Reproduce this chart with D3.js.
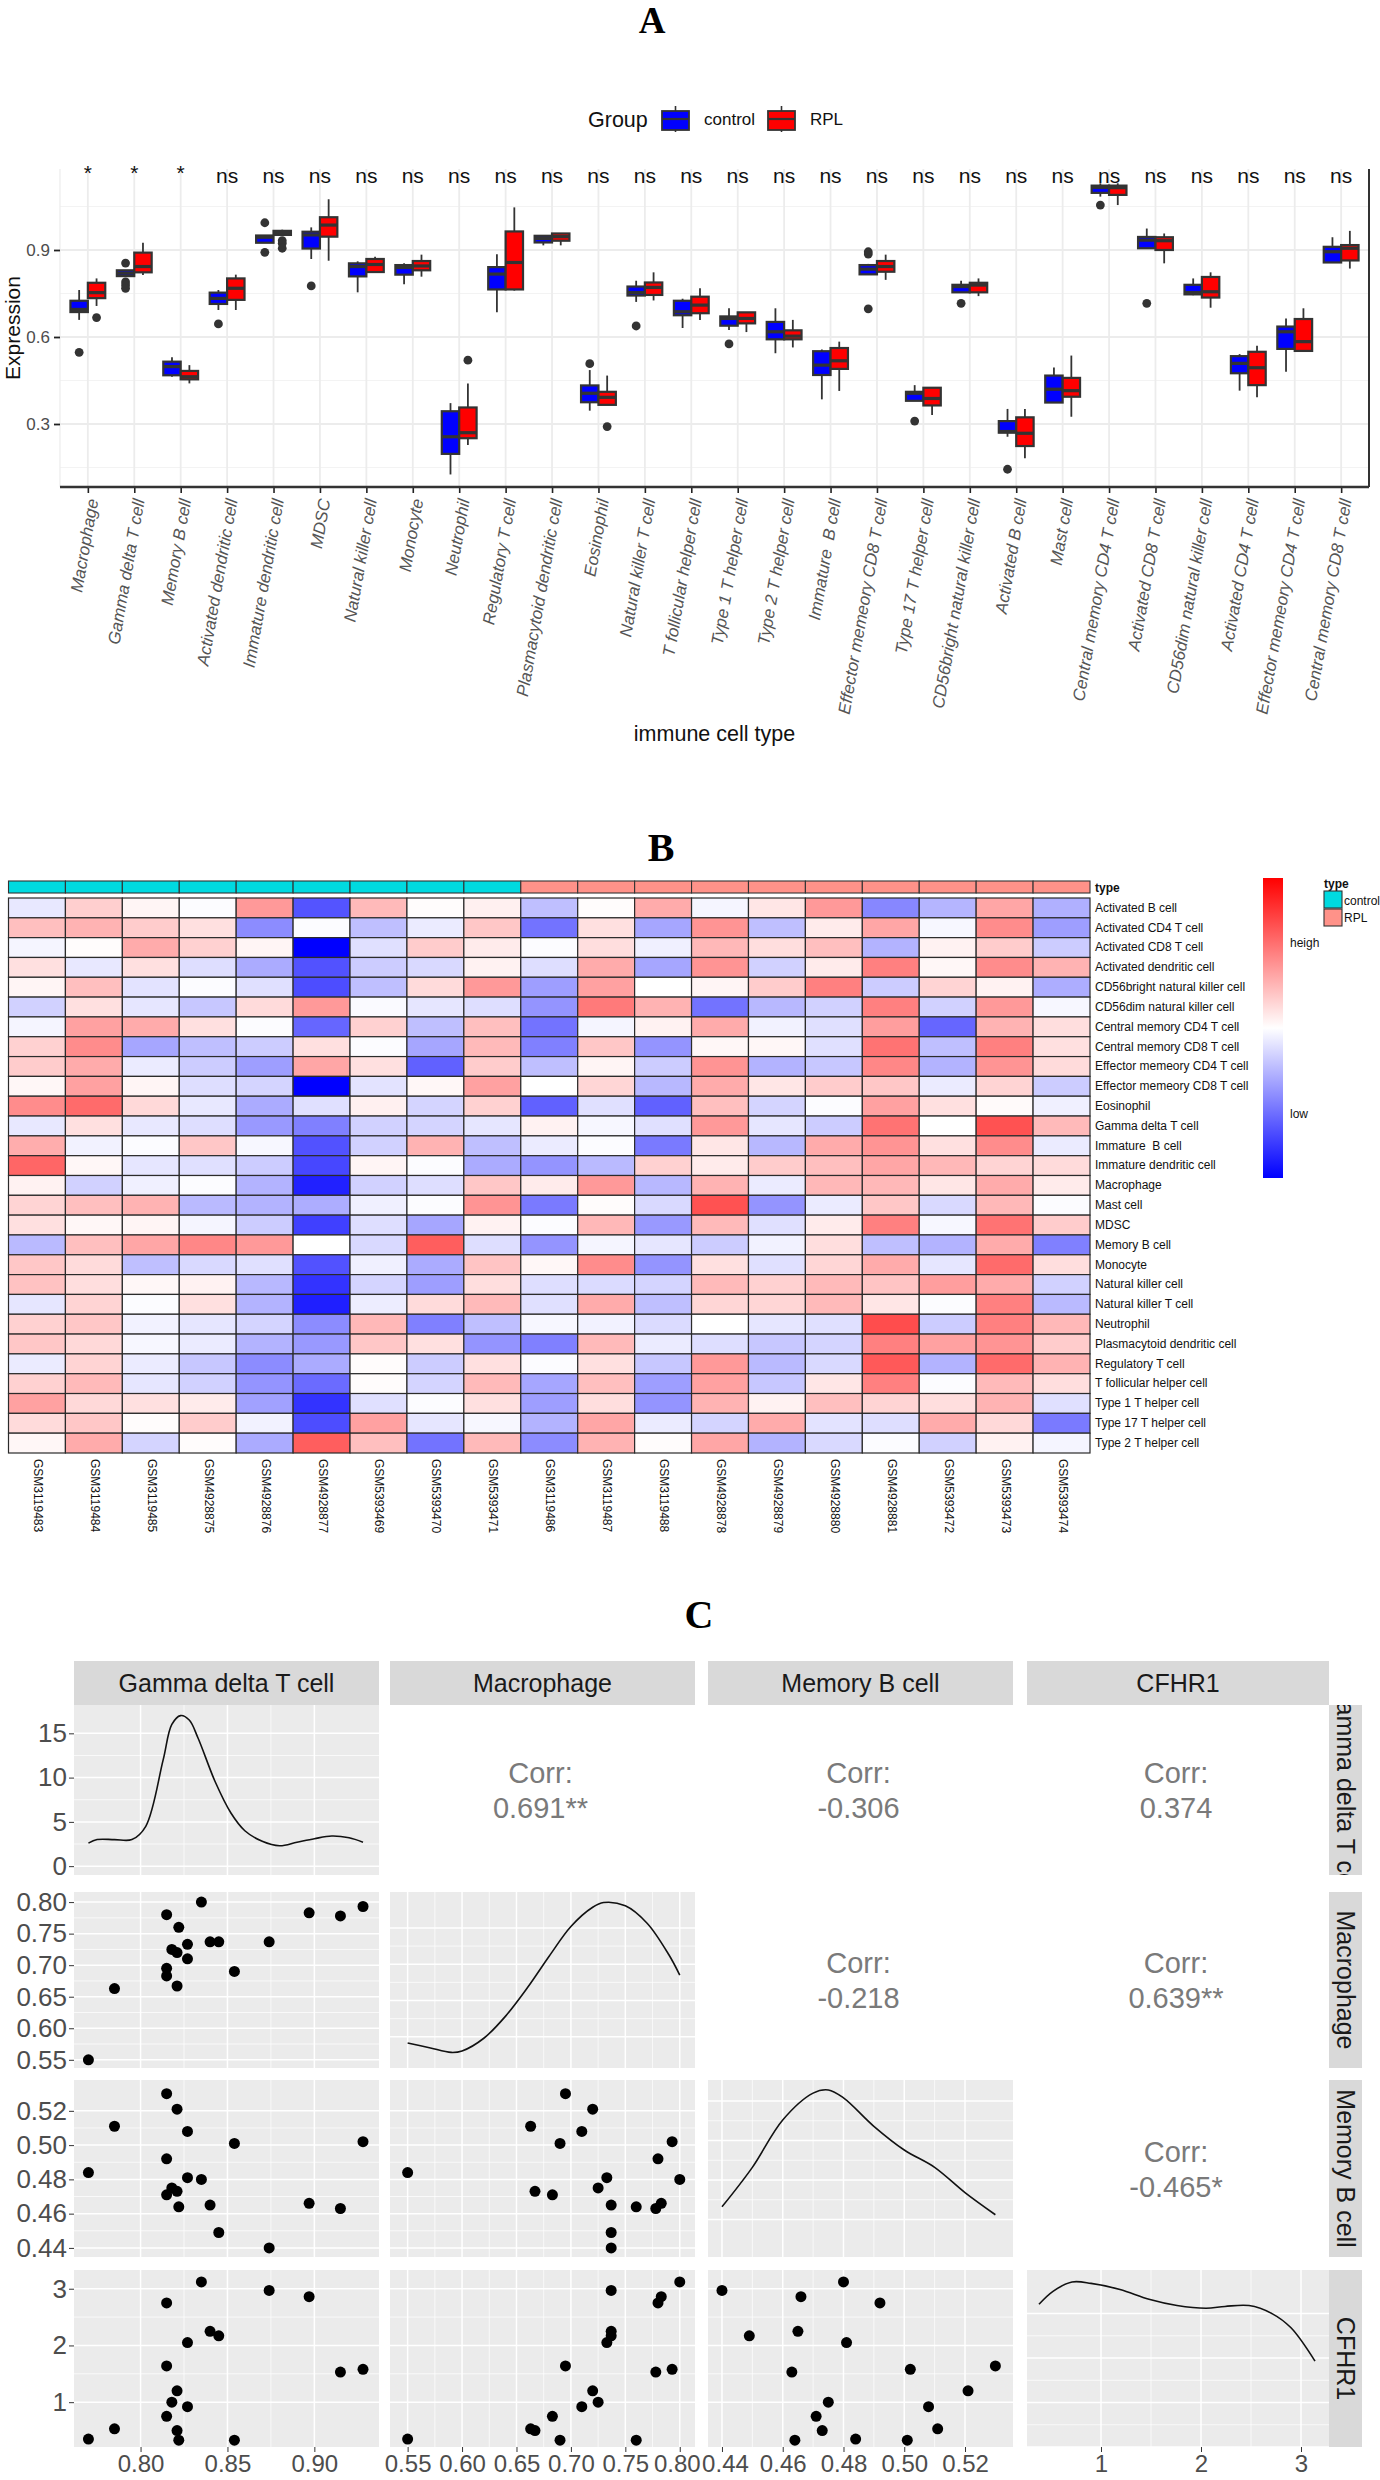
<!DOCTYPE html>
<html><head><meta charset="utf-8">
<script src="https://cdn.jsdelivr.net/npm/d3@7/dist/d3.min.js"></script>
<style>html,body{margin:0;padding:0;background:#fff}svg{display:block}text{font-family:"Liberation Sans",Arial,sans-serif;white-space:pre}</style>
</head><body><div id="chart"></div>
<script>
// ---------- Panel A data ----------
const cellTypes=["Macrophage","Gamma delta T cell","Memory B cell","Activated dendritic cell","Immature dendritic cell","MDSC","Natural killer cell","Monocyte","Neutrophil","Regulatory T cell","Plasmacytoid dendritic cell","Eosinophil","Natural killer T cell","T follicular helper cell","Type 1 T helper cell","Type 2 T helper cell","Immature  B cell","Effector memeory CD8 T cell","Type 17 T helper cell","CD56bright natural killer cell","Activated B cell","Mast cell","Central memory CD4 T cell","Activated CD8 T cell","CD56dim natural killer cell","Activated CD4 T cell","Effector memeory CD4 T cell","Central memory CD8 T cell"];
const signif=["*","*","*","ns","ns","ns","ns","ns","ns","ns","ns","ns","ns","ns","ns","ns","ns","ns","ns","ns","ns","ns","ns","ns","ns","ns","ns","ns"];
const groups=["control","RPL"];
const groupColors=["#0000ff","#ff0000"];
// each box: [lower whisker, q1, median, q3, upper whisker]
const controlBoxes=[[.659,.686,.695,.725,.762],[.81,.81,.82,.83,.83],[.463,.468,.498,.515,.53],[.693,.714,.733,.753,.762],[.925,.925,.944,.95,.95],[.869,.905,.952,.963,.978],[.754,.809,.843,.854,.861],[.782,.815,.84,.848,.854],[.126,.197,.256,.344,.372],[.685,.764,.817,.841,.885],[.916,.926,.94,.949,.949],[.346,.375,.406,.433,.486],[.721,.743,.753,.774,.794],[.631,.675,.687,.725,.732],[.624,.639,.664,.671,.699],[.544,.592,.618,.652,.699],[.385,.469,.503,.551,.557],[.816,.816,.834,.848,.852],[.38,.38,.406,.411,.434],[.754,.754,.774,.78,.794],[.256,.27,.274,.31,.352],[.374,.374,.42,.467,.495],[1.084,1.097,1.116,1.122,1.13],[.906,.906,.934,.945,.974],[.744,.747,.753,.78,.802],[.415,.475,.509,.534,.541],[.48,.559,.618,.636,.664],[.857,.857,.894,.911,.944]];
const rplBoxes=[[.707,.734,.753,.787,.802],[.814,.823,.843,.891,.925],[.44,.454,.463,.483,.503],[.693,.728,.768,.802,.815],[.952,.952,.96,.966,.97],[.863,.946,.986,1.013,1.075],[.824,.824,.85,.869,.877],[.808,.83,.845,.862,.884],[.228,.251,.27,.357,.44],[.76,.764,.857,.964,1.047],[.916,.932,.946,.957,.957],[.366,.366,.392,.411,.467],[.726,.745,.771,.788,.823],[.659,.682,.71,.739,.768],[.617,.647,.664,.685,.685],[.564,.592,.603,.623,.659],[.414,.49,.518,.562,.584],[.797,.825,.843,.862,.884],[.331,.364,.388,.425,.425],[.741,.754,.779,.787,.802],[.182,.224,.268,.323,.352],[.325,.394,.415,.459,.536],[1.055,1.09,1.115,1.122,1.13],[.854,.9,.932,.944,.957],[.701,.736,.756,.807,.823],[.392,.434,.494,.549,.57],[.552,.552,.584,.662,.699],[.836,.864,.906,.917,.966]];
const controlOutliers=[[.547],[.855,.79,.779,.768],[],[.645],[.994,.892],[.776],[],[],[],[],[],[.508],[.638],[],[.576],[],[],[.886,.894,.697],[.31],[.716],[.144],[],[1.055],[.716],[],[],[],[]];
const rplOutliers=[[.667],[],[],[],[.932,.923,.906],[],[],[],[.52],[],[],[.291],[],[],[],[],[],[],[],[],[],[],[],[],[],[],[],[]];
const expressionTicks=[.3,.6,.9];
const expressionMinor=[.15,.45,.75,1.05];

// ---------- Panel B data ----------
const samples=["GSM3119483","GSM3119484","GSM3119485","GSM4928875","GSM4928876","GSM4928877","GSM5393469","GSM5393470","GSM5393471","GSM3119486","GSM3119487","GSM3119488","GSM4928878","GSM4928879","GSM4928880","GSM4928881","GSM5393472","GSM5393473","GSM5393474"];
const sampleType=["control","control","control","control","control","control","control","control","control","RPL","RPL","RPL","RPL","RPL","RPL","RPL","RPL","RPL","RPL"];
const heatRows=["Activated B cell","Activated CD4 T cell","Activated CD8 T cell","Activated dendritic cell","CD56bright natural killer cell","CD56dim natural killer cell","Central memory CD4 T cell","Central memory CD8 T cell","Effector memeory CD4 T cell","Effector memeory CD8 T cell","Eosinophil","Gamma delta T cell","Immature  B cell","Immature dendritic cell","Macrophage","Mast cell","MDSC","Memory B cell","Monocyte","Natural killer cell","Natural killer T cell","Neutrophil","Plasmacytoid dendritic cell","Regulatory T cell","T follicular helper cell","Type 1 T helper cell","Type 17 T helper cell","Type 2 T helper cell"];
const heatValues=[
[-.09,.19,.04,-.01,.4,-.67,.27,.01,.06,-.25,.01,.33,-.04,.1,.4,-.47,-.29,.35,-.31],
[.25,.3,.2,.12,-.45,-.01,-.25,-.08,.22,-.55,.12,-.35,.42,-.25,.08,.35,-.03,.45,-.38],
[-.04,.01,.33,.18,.04,-1,-.12,.2,.08,-.01,.13,-.06,.28,.13,.25,-.3,.05,.2,-.2],
[.12,-.09,.12,-.13,-.33,-.68,-.2,-.15,.05,-.13,.33,-.35,.42,-.18,.08,.5,.03,.45,.3],
[.04,.25,-.11,-.01,-.12,-.7,-.25,.14,.4,-.38,.37,0,.04,.2,.5,-.2,.17,.05,-.32],
[-.18,.12,-.1,-.22,.14,.4,-.02,-.1,-.13,-.42,.52,.3,-.55,-.28,-.18,.5,-.18,.4,-.03],
[-.04,.37,.33,.12,-.01,-.6,.18,-.25,.25,-.55,-.04,.05,.33,-.05,-.12,.38,-.6,.3,.13],
[.18,.45,-.35,-.25,-.2,.12,-.01,-.35,.27,-.5,.22,-.42,.03,.03,-.12,.55,-.25,.5,.12],
[.2,.33,-.08,-.2,-.38,.35,.12,-.62,.2,-.25,.04,-.2,.42,-.3,-.22,.47,-.3,.42,.14],
[.03,.37,.04,-.13,-.17,-1,-.11,.03,.37,0,.16,-.28,.33,.1,.2,.22,-.08,.17,-.2],
[.45,.58,.15,-.09,-.33,-.12,.06,-.17,.18,-.62,-.12,-.62,.25,-.17,-.01,.37,.12,.02,-.06],
[-.09,.12,-.09,-.13,-.4,-.5,-.18,-.17,-.1,.05,-.03,-.12,.4,-.1,-.2,.55,0,.68,.27],
[.32,-.05,-.01,.22,-.03,-.68,-.18,.3,-.25,-.08,-.01,-.52,.1,-.28,.33,.42,.12,.45,-.08],
[.6,.03,-.1,-.12,-.2,-.72,.04,-.01,-.33,-.42,-.27,.18,.08,.2,.25,.35,.28,.17,.14],
[.05,-.18,-.06,-.01,-.3,-.87,-.18,-.13,.22,.08,.4,-.28,.3,-.08,.28,.28,.1,.33,.08],
[.17,.25,.3,-.27,-.3,-.32,-.06,-.01,.42,-.52,.01,-.15,.68,-.42,-.08,.22,-.15,.28,-.01],
[.12,.03,.04,-.04,-.2,-.75,-.13,-.35,.05,-.01,.28,-.4,.27,-.12,.08,.5,-.03,.55,.2],
[-.27,.25,.35,.47,.4,0,-.15,.63,-.13,-.42,-.04,-.1,-.2,-.05,.13,-.25,-.3,.33,-.5],
[.22,.14,-.25,-.15,-.12,-.68,-.06,-.33,.23,.03,.45,-.42,.12,-.12,.16,.33,-.1,.58,.13],
[.24,.13,.03,.05,-.28,-.8,-.17,-.38,.13,-.13,-.14,-.17,.27,.18,.27,.23,.38,.33,-.18],
[-.1,.17,-.01,.12,-.3,-.88,-.07,.14,.27,-.12,.33,-.25,.16,.16,.27,.1,-.01,.5,-.27],
[.18,.22,-.05,-.1,-.17,-.45,.28,-.5,-.25,-.03,-.05,-.14,0,-.1,-.12,.7,-.2,.5,.28],
[.22,.15,-.03,-.08,-.3,-.4,.22,.12,-.42,-.5,.27,-.08,-.13,-.22,-.17,.5,.37,.42,.2],
[-.08,.17,-.08,-.22,-.45,-.33,.01,-.2,.12,-.01,.12,-.22,.4,-.27,-.15,.65,-.3,.58,.3],
[.18,.27,-.1,-.18,-.42,-.58,.01,-.17,.27,-.35,.25,-.38,.37,-.22,.1,.5,-.01,.27,.13],
[.37,.15,.12,.08,-.37,-.8,-.12,-.01,.12,-.38,.13,-.42,.3,.05,.25,.17,.13,.3,-.12],
[.14,.22,.01,.2,-.05,-.7,.37,-.1,-.03,-.3,.35,-.08,-.17,.33,-.11,-.13,.33,.15,-.52],
[.03,.33,-.17,.01,-.33,.63,.25,-.55,.27,-.45,.3,.01,.35,-.3,-.15,-.01,-.18,.05,-.04]];
const typeColors={control:"#00DAE0",RPL:"#FF9289"};

// ---------- Panel C data ----------
const pairNames=["Gamma delta T cell","Macrophage","Memory B cell","CFHR1"];
const gammaDelta=[.77,.785,.815,.815,.815,.818,.821,.821,.822,.827,.827,.835,.84,.845,.854,.874,.897,.915,.928];
const macrophage=[.55,.663,.78,.695,.683,.725,.667,.72,.76,.733,.71,.8,.737,.737,.69,.737,.783,.778,.793];
const memoryB=[.484,.511,.492,.53,.471,.475,.473,.521,.464,.481,.508,.48,.465,.449,.501,.44,.466,.463,.502];
const cfhr1=[.35,.53,2.75,1.64,.75,1,.5,1.2,.33,2.05,.92,3.12,2.25,2.17,.33,2.97,2.86,1.53,1.58];
const corrLabels=[[null,"0.691**","-0.306","0.374"],[null,null,"-0.218","0.639**"],[null,null,null,"-0.465*"]];
const densityGammaX=[.77,.775,.785,.795,.803,.813,.818,.823,.828,.833,.843,.852,.86,.87,.88,.89,.9,.91,.92,.928];
const densityGammaY=[2.6,3,3,3,4.5,12,16,17,16.5,14.5,9.5,6,4,2.8,2.3,2.7,3.1,3.4,3.2,2.7];
const densityMacX=[.55,.57,.59,.6,.62,.64,.66,.68,.7,.72,.73,.75,.77,.79,.8];
const densityMacY=[.83,.7,.57,.61,.96,1.57,2.35,3.22,4.04,4.57,4.7,4.61,4.13,3.26,2.7];
const densityMemX=[.44,.45,.46,.47,.475,.48,.49,.5,.51,.52,.53];
const densityMemY=[6.6,11.6,17.6,21,21.4,20.4,16.8,13.8,11.6,8.4,5.6];
const densityCfhX=[.38,.52,.71,.9,1.19,1.48,1.76,2.05,2.24,2.48,2.71,2.9,3.14];
const densityCfhY=[.321,.35,.371,.368,.354,.332,.318,.312,.316,.318,.3,.268,.193];
const pairXTicks=[[.8,.85,.9],[.55,.6,.65,.7,.75,.8],[.44,.46,.48,.5,.52],[1,2,3]];
const pairYTicks=[[0,5,10,15],[.55,.6,.65,.7,.75,.8],[.44,.46,.48,.5,.52],[1,2,3]];

// ---------- Layout ----------
const W=1380,H=2480;
const svg=d3.select("#chart").append("svg").attr("width",W).attr("height",H).attr("viewBox",`0 0 ${W} ${H}`);
const serif='"Liberation Serif","Times New Roman",serif';
function panelTitle(t,x,y,s){svg.append("text").attr("x",x).attr("y",y).attr("text-anchor","middle").style("font-family",serif).style("font-weight","bold").style("font-size",s+"px").text(t);}
panelTitle("A",652,33,37);panelTitle("B",661,861,40);panelTitle("C",699,1628,40);

// ---------- Panel A ----------
(function(){
 const L=60,R=1369,T=169,B=487;
 // ggplot discrete expansion of 0.6 units
 const xc=d=>L+(R-L)*(cellTypes.indexOf(d)+.6)/(cellTypes.length+.2);
 const y=d3.scaleLinear().domain([.9-(B-250)/290,.9+(250-T)/290]).range([B,T]);
 const g=svg.append("g");
 g.selectAll(".gmin").data(expressionMinor).join("line").attr("x1",L).attr("x2",R).attr("y1",y).attr("y2",y).attr("stroke","#f3f3f3").attr("stroke-width",1.2);
 g.selectAll(".gmaj").data(expressionTicks).join("line").attr("x1",L).attr("x2",R).attr("y1",y).attr("y2",y).attr("stroke","#ececec").attr("stroke-width",1.8);
 g.selectAll(".gv").data(cellTypes).join("line").attr("x1",xc).attr("x2",xc).attr("y1",T).attr("y2",B).attr("stroke","#ececec").attr("stroke-width",1.8);
 g.append("line").attr("x1",L).attr("x2",L).attr("y1",T).attr("y2",B).attr("stroke","#ececec").attr("stroke-width",1.2);

 const bw=(R-L)/(cellTypes.length+.2)*.75/2;
 const dark="#333";
 function drawBoxes(data,outl,color,off){
  const gg=g.append("g");
  data.forEach((b,i)=>{
   const cx=xc(cellTypes[i])+off*bw/2;
   gg.append("line").attr("x1",cx).attr("x2",cx).attr("y1",y(b[0])).attr("y2",y(b[4])).attr("stroke",dark).attr("stroke-width",1.8);
   gg.append("rect").attr("x",cx-bw/2).attr("width",bw).attr("y",y(b[3])).attr("height",y(b[1])-y(b[3])).attr("fill",color).attr("stroke",dark).attr("stroke-width",2.2);
   gg.append("line").attr("x1",cx-bw/2).attr("x2",cx+bw/2).attr("y1",y(b[2])).attr("y2",y(b[2])).attr("stroke",dark).attr("stroke-width",3.2);
   outl[i].forEach(v=>gg.append("circle").attr("cx",cx).attr("cy",y(v)).attr("r",4.4).attr("fill",dark));
  });
 }
 drawBoxes(controlBoxes,controlOutliers,groupColors[0],-1);
 drawBoxes(rplBoxes,rplOutliers,groupColors[1],1);

 g.selectAll(".sig").data(signif).join("text").attr("x",(d,i)=>xc(cellTypes[i])).attr("y",d=>d==="*"?180:183).attr("text-anchor","middle").style("font-size","21px").attr("fill","#111").text(d=>d);

 // axes
 const ya=d3.axisLeft(y).tickValues(expressionTicks).tickFormat(d3.format(".1f")).tickSize(6).tickPadding(4);
 const yg=svg.append("g").attr("transform",`translate(${L},0)`).call(ya);
 yg.select(".domain").remove();
 yg.selectAll("line").attr("stroke","#222").attr("stroke-width",1.8);
 yg.selectAll("text").style("font-size","17px").attr("fill","#4d4d4d");
 const xband=d3.scalePoint().domain(cellTypes).range([xc(cellTypes[0]),xc(cellTypes[27])]);
 const xa=d3.axisBottom(xband).tickSize(6).tickSizeOuter(0);
 const xg=svg.append("g").attr("transform",`translate(0,${B})`).call(xa);
 xg.select(".domain").remove();
 xg.selectAll("line").attr("stroke","#222").attr("stroke-width",1.6);
 xg.selectAll("text").attr("dy",null).attr("y",null).attr("transform","translate(10,13) rotate(-80)").attr("text-anchor","end").style("font-size","17px").style("font-style","italic").attr("fill","#555");
 svg.append("line").attr("x1",L).attr("x2",R).attr("y1",B).attr("y2",B).attr("stroke","#333").attr("stroke-width",2.4);
 svg.append("line").attr("x1",R).attr("x2",R).attr("y1",T).attr("y2",B).attr("stroke","#333").attr("stroke-width",2);

 svg.append("text").attr("transform","translate(20,328) rotate(-90)").attr("text-anchor","middle").style("font-size","21px").attr("fill","#111").text("Expression");
 svg.append("text").attr("x",714.5).attr("y",741).attr("text-anchor","middle").style("font-size","21.5px").attr("fill","#111").text("immune cell type");

 // legend
 svg.append("text").attr("x",588).attr("y",127).style("font-size","21.5px").attr("fill","#111").text("Group");
 const lk=[{g:groups[0],c:groupColors[0],x:662,tx:704},{g:groups[1],c:groupColors[1],x:768,tx:810}];
 lk.forEach(d=>{
  const w=27;
  svg.append("line").attr("x1",d.x+w/2).attr("x2",d.x+w/2).attr("y1",106).attr("y2",132).attr("stroke",dark).attr("stroke-width",1.6);
  svg.append("rect").attr("x",d.x).attr("y",111).attr("width",w).attr("height",19).attr("fill",d.c).attr("stroke",dark).attr("stroke-width",1.8);
  svg.append("line").attr("x1",d.x).attr("x2",d.x+w).attr("y1",119).attr("y2",119).attr("stroke",dark).attr("stroke-width",2.2);
  svg.append("text").attr("x",d.tx).attr("y",125).style("font-size","17px").attr("fill","#111").text(d.g);
 });
})();

// ---------- Panel B ----------
(function(){
 const L=8.5,R=1090,T=898,B=1453;
 const x=d3.scaleBand().domain(samples).range([L,R]);
 const y=d3.scaleBand().domain(heatRows).range([T,B]);
 const color=d3.scaleLinear().domain([-1,0,1]).range(["#0000ff","#ffffff","#ff0000"]);
 const g=svg.append("g");
 g.selectAll(".ann").data(samples).join("rect").attr("x",d=>x(d)).attr("y",881).attr("width",x.bandwidth()).attr("height",12).attr("fill",(d,i)=>typeColors[sampleType[i]]).attr("stroke","#333").attr("stroke-width",1.1);
 heatRows.forEach((r,i)=>{
  g.selectAll(null).data(heatValues[i]).join("rect").attr("x",(d,j)=>x(samples[j])).attr("y",y(r)).attr("width",x.bandwidth()).attr("height",y.bandwidth()).attr("fill",d=>color(d)).attr("stroke","#2b2b2b").attr("stroke-width",1.2);
 });
 const ra=svg.append("g").attr("transform",`translate(${R},0)`).call(d3.axisRight(y).tickSize(0).tickPadding(5));
 ra.select(".domain").remove();
 ra.selectAll("text").style("font-size","12px").attr("fill","#111");
 svg.append("text").attr("x",R+5).attr("y",891.5).style("font-size","12px").style("font-weight","bold").attr("fill","#111").text("type");
 const ba=svg.append("g").attr("transform",`translate(0,${B})`).call(d3.axisBottom(x).tickSize(0));
 ba.select(".domain").remove();
 ba.selectAll("text").attr("dy",null).attr("y",null).attr("transform","translate(-3,6) rotate(90)").attr("text-anchor","start").style("font-size","12px").attr("fill","#111");
 // colour legend
 const defs=svg.append("defs");
 const lg=defs.append("linearGradient").attr("id","heatgrad").attr("x1",0).attr("x2",0).attr("y1",1).attr("y2",0);
 [-1,-.5,0,.5,1].forEach(v=>lg.append("stop").attr("offset",(v+1)/2).attr("stop-color",color(v)));
 svg.append("rect").attr("x",1263).attr("y",878).attr("width",20).attr("height",300).attr("fill","url(#heatgrad)");
 svg.append("text").attr("x",1290).attr("y",947).style("font-size","12px").attr("fill","#111").text("heigh");
 svg.append("text").attr("x",1290).attr("y",1118).style("font-size","12px").attr("fill","#111").text("low");
 svg.append("text").attr("x",1324).attr("y",888).style("font-size","12px").style("font-weight","bold").attr("fill","#111").text("type");
 [["control",891,905],["RPL",909,922]].forEach(d=>{
  svg.append("rect").attr("x",1324).attr("y",d[1]).attr("width",18).attr("height",17).attr("fill",typeColors[d[0]]).attr("stroke","#333").attr("stroke-width",1.1);
  svg.append("text").attr("x",1344).attr("y",d[2]).style("font-size","12px").attr("fill","#111").text(d[0]);
 });
})();

// ---------- Panel C ----------
(function(){
 const colX=[[74,379],[390,695],[708,1013],[1027,1329]];
 const rowY=[[1705,1875],[1892,2068],[2080,2257],[2270,2447]];
 const stripTop=[1661,1705], stripRight=[1329,1362];
 const xScales=[
  d3.scaleLinear().domain([.7617,.9372]).range(colX[0]),
  d3.scaleLinear().domain([.5338,.814]).range(colX[1]),
  d3.scaleLinear().domain([.4354,.5358]).range(colX[2]),
  d3.scaleLinear().domain([.26,3.28]).range(colX[3])];
 const yScales=[
  d3.scaleLinear().domain([-1,18.2]).range(rowY[0].slice().reverse()),
  d3.scaleLinear().domain([.537,.816]).range(rowY[1].slice().reverse()),
  d3.scaleLinear().domain([.4347,.538]).range(rowY[2].slice().reverse()),
  d3.scaleLinear().domain([.21,3.33]).range(rowY[3].slice().reverse())];
 const vars=[gammaDelta,macrophage,memoryB,cfhr1];
 const dens=[[densityGammaX,densityGammaY,null],[densityMacX,densityMacY,[.14,4.99]],[densityMemX,densityMemY,[.25,22.66]],[densityCfhX,densityCfhY,[0,.398]]];
 const diagY=[yScales[0],
  d3.scaleLinear().domain(dens[1][2]).range(rowY[1].slice().reverse()),
  d3.scaleLinear().domain(dens[2][2]).range(rowY[2].slice().reverse()),
  d3.scaleLinear().domain(dens[3][2]).range(rowY[3].slice().reverse())];
 const g=svg.append("g");
 // strips
 pairNames.forEach((n,c)=>{
  g.append("rect").attr("x",colX[c][0]).attr("width",colX[c][1]-colX[c][0]).attr("y",stripTop[0]).attr("height",stripTop[1]-stripTop[0]).attr("fill","#d9d9d9");
  g.append("text").attr("x",d3.mean(colX[c])).attr("y",d3.mean(stripTop)+9).attr("text-anchor","middle").style("font-size","25px").attr("fill","#1a1a1a").text(n);
 });
 const defs=svg.append("defs");
 pairNames.forEach((n,r)=>{
  defs.append("clipPath").attr("id","rs"+r).append("rect").attr("x",stripRight[0]).attr("width",W-stripRight[0]).attr("y",rowY[r][0]).attr("height",rowY[r][1]-rowY[r][0]);
  g.append("rect").attr("x",stripRight[0]).attr("width",stripRight[1]-stripRight[0]).attr("y",rowY[r][0]).attr("height",rowY[r][1]-rowY[r][0]).attr("fill","#d9d9d9");
  const tg=g.append("g").attr("clip-path",`url(#rs${r})`);
  tg.append("text").attr("transform",`translate(${d3.mean(stripRight)-9},${d3.mean(rowY[r])}) rotate(90)`).attr("text-anchor","middle").style("font-size","25px").attr("fill","#1a1a1a").text(n);
 });
 function background(c,r,yS,yTicks){
  const xS=xScales[c];
  const p=g.append("g");
  p.append("rect").attr("x",colX[c][0]).attr("y",rowY[r][0]).attr("width",colX[c][1]-colX[c][0]).attr("height",rowY[r][1]-rowY[r][0]).attr("fill","#ebebeb");
  const xt=pairXTicks[c], xm=d3.pairs(xt).map(a=>(a[0]+a[1])/2);
  p.selectAll(null).data(xm).join("line").attr("x1",xS).attr("x2",xS).attr("y1",rowY[r][0]).attr("y2",rowY[r][1]).attr("stroke","#fff").attr("stroke-width",.7);
  p.selectAll(null).data(xt).join("line").attr("x1",xS).attr("x2",xS).attr("y1",rowY[r][0]).attr("y2",rowY[r][1]).attr("stroke","#fff").attr("stroke-width",1.5);
  const ym=d3.pairs(yTicks).map(a=>(a[0]+a[1])/2);
  p.selectAll(null).data(ym).join("line").attr("y1",yS).attr("y2",yS).attr("x1",colX[c][0]).attr("x2",colX[c][1]).attr("stroke","#fff").attr("stroke-width",.7);
  p.selectAll(null).data(yTicks).join("line").attr("y1",yS).attr("y2",yS).attr("x1",colX[c][0]).attr("x2",colX[c][1]).attr("stroke","#fff").attr("stroke-width",1.5);
 }
 pairNames.forEach((_,r)=>pairNames.forEach((__,c)=>{
  if(r===c){
   const yS=diagY[r];
   background(c,r,yS,r===0?pairYTicks[0]:yS.ticks(4));
   const xs=dens[r][0],ys=dens[r][1];
   const ln=d3.line().x(d=>xScales[c](xs[d])).y(d=>yS(ys[d])).curve(d3.curveCatmullRom.alpha(.5));
   g.append("path").attr("d",ln(d3.range(xs.length))).attr("fill","none").attr("stroke","#111").attr("stroke-width",1.6);
  } else if(r>c){
   background(c,r,yScales[r],pairYTicks[r]);
   g.selectAll(null).data(vars[c]).join("circle").attr("cx",d=>xScales[c](d)).attr("cy",(d,i)=>yScales[r](vars[r][i])).attr("r",5.5).attr("fill","#000");
  } else {
   const cx=d3.mean(colX[c])-2,cy=d3.mean(rowY[r]);
   g.append("text").attr("x",cx).attr("y",cy-7).attr("text-anchor","middle").style("font-size","29px").attr("fill","#7a7a7a").text("Corr:");
   g.append("text").attr("x",cx).attr("y",cy+28).attr("text-anchor","middle").style("font-size","29px").attr("fill","#7a7a7a").text(corrLabels[r][c]);
  }
 }));
 // axes
 const fmt=[d3.format(".2f"),d3.format(".2f"),d3.format(".2f"),d3.format("d")];
 pairNames.forEach((_,c)=>{
  const a=svg.append("g").attr("transform",`translate(0,${rowY[3][1]})`).call(d3.axisBottom(xScales[c]).tickValues(pairXTicks[c]).tickFormat(fmt[c]).tickSize(5).tickPadding(3));
  a.select(".domain").remove();a.selectAll("line").attr("stroke","#333");
  const labels=a.selectAll("text").style("font-size","24px").attr("fill","#4d4d4d");
  // the two neighbouring end labels nearly touch: nudge them apart
  if(c===1) labels.filter(d=>d===.8).attr("dx",-3);
  if(c===2) labels.filter(d=>d===.44).attr("dx",3);
 });
 pairNames.forEach((_,r)=>{
  const f=r===0?d3.format("d"):fmt[r];
  const a=svg.append("g").attr("transform",`translate(${colX[0][0]},0)`).call(d3.axisLeft(yScales[r]).tickValues(pairYTicks[r]).tickFormat(f).tickSize(5).tickPadding(2));
  a.select(".domain").remove();a.selectAll("line").attr("stroke","#333");
  a.selectAll("text").style("font-size","26px").attr("fill","#4d4d4d");
 });
})();
</script></body></html>
